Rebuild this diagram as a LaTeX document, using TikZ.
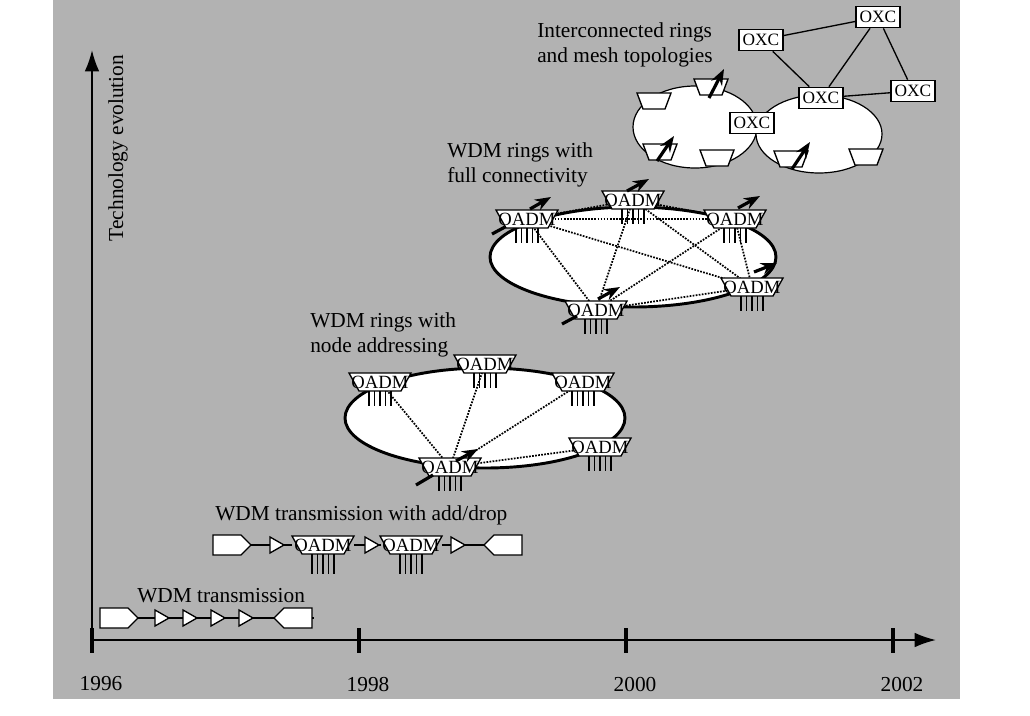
\documentclass[tikz,border=0pt]{standalone}
\usepackage{fontspec}
\setmainfont{Liberation Serif}
\usetikzlibrary{arrows.meta}
\definecolor{bggray}{gray}{0.7}
\tikzset{
  lbl/.style={font=\fontsize{16}{19}\selectfont, align=left, inner sep=0pt},
  ring/.style={draw, fill=white, line width=2.2pt},
  mring/.style={draw, fill=white, line width=0.9pt},
  link/.style={densely dotted, line width=1.3pt},
  fat/.style={line width=2.4pt, -{Stealth[length=12pt,width=9pt]}},
  oxc/.style={draw, fill=white, line width=1pt, minimum width=33pt, minimum height=16pt, font=\fontsize{13}{14}\selectfont, inner sep=1.5pt},
  pics/oadm/.style={code={
    \draw[fill=white, line width=1pt] (-31,-9) -- (31,-9) -- (21,9) -- (-21,9) -- cycle;
    \foreach \i in {-11,-5.5,0,5.5,11} \draw[line width=1pt] (\i,9) -- (\i,9+#1);
    \node[font=\fontsize{14}{15}\selectfont, inner sep=0pt] (-c) at (0,0) {OADM};
  }},
  pics/oadm/.default=18,
  pics/smalltrap/.style={code={
    \draw[fill=white, line width=1pt] (-17,-8) -- (17,-8) -- (11,8) -- (-11,8) -- cycle;
    \coordinate (-c) at (0,0);
  }},
  pics/tx/.style={code={
    \draw[fill=white, line width=1pt] (-19,-10) -- (9,-10) -- (19,0) -- (9,10) -- (-19,10) -- cycle;
    \coordinate (-w) at (-19,0); \coordinate (-e) at (19,0);
  }},
  pics/rx/.style={code={
    \draw[fill=white, line width=1pt] (19,-10) -- (-9,-10) -- (-19,0) -- (-9,10) -- (19,10) -- cycle;
    \coordinate (-w) at (-19,0); \coordinate (-e) at (19,0);
  }},
  pics/amp/.style={code={
    \draw[fill=white, line width=1pt] (-7,-8) -- (7,0) -- (-7,8) -- cycle;
    \coordinate (-w) at (-7,0); \coordinate (-e) at (7,0);
  }}
}
\begin{document}
\begin{tikzpicture}[x=0.75pt,y=-0.75pt]
\useasboundingbox (0,0) rectangle (1030,715);
\fill[bggray] (53,0) rectangle (960,699);

% axes
\coordinate (o) at (92,640);
\coordinate (xend) at (936,640);
\coordinate (yend) at (92,50);
\draw[line width=1.5pt, -{Latex[length=16pt,width=11pt]}] (o) -- (xend);
\draw[line width=1.5pt, -{Latex[length=16pt,width=11pt]}] (o) -- (yend);
\foreach \x/\yr in {92/1996,359/1998,626/2000,893/2002} {
  \draw[line width=2.5pt] (\x,628) -- (\x,653);
  \node[font=\fontsize{16}{18}\selectfont] (y\yr) at (\x+9,684) {\yr};
}
\node[lbl, rotate=90] (tech) at (118,148) {Technology evolution};

% WDM transmission
\node[lbl, anchor=west] (t1) at (137,596) {WDM transmission};
\pic (a0) at (119,618) {tx};
\pic (a1) at (162,618) {amp};
\pic (a2) at (190,618) {amp};
\pic (a3) at (218,618) {amp};
\pic (a4) at (246,618) {amp};
\pic (a5) at (293,618) {rx};
\foreach \i/\j in {0/1,1/2,2/3,3/4,4/5} \draw[line width=1pt] (a\i-e) -- (a\j-w);
\draw[line width=1pt] (a5-e) -- ++(2,0);

% WDM transmission with add/drop
\node[lbl, anchor=west] (t2) at (215,515) {WDM transmission with add/drop};
\pic (b0) at (232,545) {tx};
\pic (b1) at (277,545) {amp};
\pic (b2) at (323,545) {oadm=20};
\pic (b3) at (372,545) {amp};
\pic (b4) at (411,545) {oadm=20};
\pic (b5) at (458,545) {amp};
\pic (b6) at (503,545) {rx};
\draw[line width=1pt] (b0-e) -- (b1-w);
\draw[line width=1pt] (b1-e) -- (292,545);
\draw[line width=1pt] (354,545) -- (b3-w);
\draw[line width=1pt] (b3-e) -- (381,545);
\draw[line width=1pt] (442,545) -- (b5-w);
\draw[line width=1pt] (b5-e) -- (b6-w);

% WDM rings with node addressing
\node[lbl, anchor=west] (t3) at (310,335) {WDM rings with\\node addressing};
\draw[ring] (485,418) ellipse (140 and 50);
\coordinate (r1) at (380,382);
\coordinate (r2) at (485,364);
\coordinate (r3) at (583,382);
\coordinate (r4) at (600,447);
\coordinate (r5) at (450,467);
\foreach \n in {1,2,3,4} \draw[link] (r5) -- (r\n);
\foreach \n in {1,2,3,4,5} \pic at (r\n) {oadm=15};
\draw[line width=2.4pt] (416,485) -- (433,475);
\draw[fat] (456,461) -- (478,449);

% WDM rings with full connectivity
\node[lbl, anchor=west] (t4) at (447,165) {WDM rings with\\full connectivity};
\draw[ring] (633,257) ellipse (143 and 50);
\coordinate (f1) at (527,219);
\coordinate (f2) at (633,200);
\coordinate (f3) at (735,219);
\coordinate (f4) at (752,287);
\coordinate (f5) at (596,310);
\foreach \i/\j in {1/2,1/3,1/4,1/5,2/3,2/4,2/5,3/4,3/5,4/5} \draw[link] (f\i) -- (f\j);
\foreach \n in {1,...,5} \pic at (f\n) {oadm=15};
\draw[fat] (530,209) -- (551,197);
\draw[fat] (627,191) -- (649,179);
\draw[fat] (738,208) -- (760,196);
\draw[fat] (754,272) -- (777,263);
\draw[fat] (598,299) -- (620,287);
\draw[line width=2.4pt] (492,234) -- (505,227);
\draw[line width=2.4pt] (562,324) -- (577,316);

% interconnected rings and mesh
\node[lbl, anchor=west] (t5) at (537,45) {Interconnected rings\\and mesh topologies};
\draw[mring] (695,127) ellipse (62 and 41);
\draw[mring] (819,134) ellipse (63 and 39);
\pic at (654,101) {smalltrap};
\pic at (711,87) {smalltrap};
\pic at (660,152) {smalltrap};
\pic at (717,158) {smalltrap};
\pic at (791,159) {smalltrap};
\pic at (866,157) {smalltrap};
\node[oxc] (x1) at (761,40) {OXC};
\node[oxc] (x2) at (878,17) {OXC};
\node[oxc] (x3) at (821,98) {OXC};
\node[oxc] (x4) at (913,91) {OXC};
\node[oxc] (x5) at (752,123) {OXC};
\draw[line width=1pt] (x1) -- (x2) (x1) -- (x3) (x2) -- (x3) (x2) -- (x4) (x3) -- (x4);
\draw[fat] (709,98) -- (724,69);
\draw[fat] (657,161) -- (674,136);
\draw[fat] (792,169) -- (810,142);
\end{tikzpicture}
\end{document}
